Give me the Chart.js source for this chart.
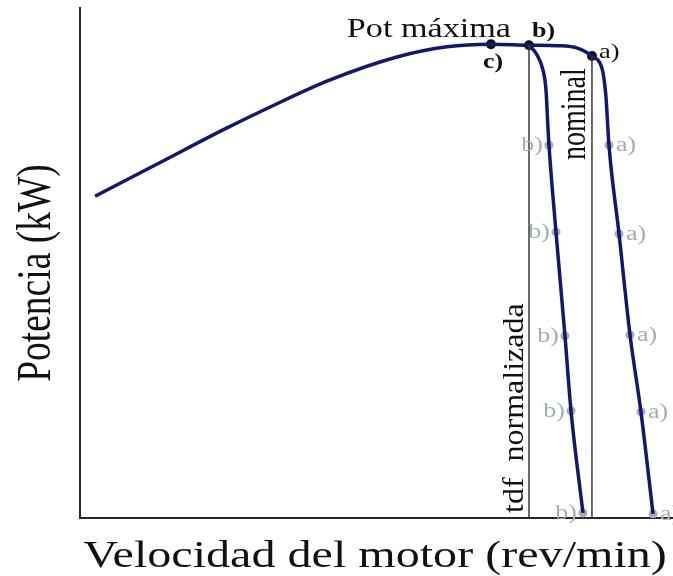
<!DOCTYPE html>
<html>
<head>
<meta charset="utf-8">
<script src="https://cdn.jsdelivr.net/npm/chart.js@4.4.0/dist/chart.umd.min.js"></script>
<style>
html, body { margin: 0; padding: 0; background: #fff; }
#wrap { width: 673px; height: 576px; }
</style>
</head>
<body>
<div id="wrap"><canvas id="powerChart"></canvas></div>
<script>
// curva principal: sube hasta la potencia máxima y cae por la rama a)
const speedMain = [152, 840, 1447, 1892, 2530, 3207, 3713, 4158, 4543, 4836, 5039, 5180, 5261, 5292, 5322, 5342, 5352, 5454, 5565, 5676, 5798];
const powerMain = [63.1, 70.0, 76.1, 80.3, 85.9, 90.4, 92.4, 92.9, 92.7, 92.6, 92.1, 90.6, 89.2, 87.3, 82.5, 76.1, 73.1, 55.7, 35.9, 20.8, 0.8];

// rama b) (tdf normalizada)
const speedB = [4543, 4624, 4685, 4715, 4736, 4745, 4816, 4907, 4968, 5089];
const powerB = [92.7, 90.8, 87.8, 83.9, 76.1, 73.1, 56.1, 35.7, 21.0, 1.0];

// puntos grises sobre cada rama
const graySpeedA = [5352, 5454, 5565, 5676, 5798];
const grayPowerA = [73.1, 55.7, 35.9, 20.8, 0.8];
const graySpeedB = [4745, 4816, 4907, 4968, 5089];
const grayPowerB = [73.1, 56.1, 35.7, 21.0, 1.0];

// puntos negros: c) potencia máxima, b) tdf normalizada, a) nominal
const keyLabels = ['c)', 'b)', 'a)'];
const keySpeed = [4158, 4543, 5180];
const keyPower = [92.9, 92.7, 90.6];

const xTitle = 'Velocidad del motor (rev/min)';
const yTitle = 'Potencia (kW)';

const NAVY = '#15166e';
const GRAY = '#a2afb7';
const SERIF = '"Liberation Serif", "Times New Roman", serif';

function toPoints(xs, ys) {
    return xs.map((v, i) => ({ x: v, y: ys[i] }));
}

function drawText(ctx, text, px, py, o) {
    ctx.save();
    ctx.translate(px, py);
    ctx.scale(o.stretch || 1, 1);
    if (o.rotate) ctx.rotate(-Math.PI / 2);
    ctx.font = (o.weight || 'normal') + ' ' + o.size + 'px ' + SERIF;
    ctx.fillStyle = o.color || '#111';
    ctx.textAlign = o.align || 'left';
    ctx.textBaseline = 'alphabetic';
    ctx.fillText(text, 0, 0);
    ctx.restore();
}

const labelsPlugin = {
    id: 'labels',
    afterDatasetsDraw(chart) {
        const { ctx, chartArea, scales: { x, y } } = chart;

        // etiquetas de los puntos grises
        graySpeedB.forEach((s, i) => {
            drawText(ctx, 'b)', x.getPixelForValue(s) - 6, y.getPixelForValue(grayPowerB[i]) + 6,
                { size: 20, stretch: 1.3, color: GRAY, align: 'right' });
        });
        graySpeedA.forEach((s, i) => {
            drawText(ctx, 'a)', x.getPixelForValue(s) + 7, y.getPixelForValue(grayPowerA[i]) + 6,
                { size: 20, stretch: 1.3, color: GRAY });
        });

        const cx = x.getPixelForValue(keySpeed[0]), cy = y.getPixelForValue(keyPower[0]);
        const bx = x.getPixelForValue(keySpeed[1]), by = y.getPixelForValue(keyPower[1]);
        const ax = x.getPixelForValue(keySpeed[2]), ay = y.getPixelForValue(keyPower[2]);

        drawText(ctx, 'Pot máxima', cx + 20, cy - 7, { size: 28, stretch: 1.22, align: 'right' });
        drawText(ctx, keyLabels[0], cx - 8, cy + 24, { size: 22, stretch: 1.18, weight: 'bold' });
        drawText(ctx, keyLabels[1], bx + 3, by - 8, { size: 22, stretch: 1.18, weight: 'bold' });
        drawText(ctx, keyLabels[2], ax + 7, ay + 2, { size: 22, stretch: 1.2 });

        drawText(ctx, 'nominal', ax - 7, chartArea.top + 152, { size: 28, stretch: 1.29, rotate: true });
        drawText(ctx, 'tdf  normalizada', bx - 6, chartArea.bottom - 5, { size: 32, stretch: 0.92, rotate: true });

        // títulos de los ejes
        drawText(ctx, yTitle, 50, 273, { size: 37.5, stretch: 1.3, rotate: true, align: 'center' });
        drawText(ctx, xTitle, 375, 567, { size: 37, stretch: 1.3, align: 'center' });
    }
};

const hiddenAxis = (max) => ({
    type: 'linear',
    min: 0,
    max: max,
    ticks: { display: false },
    grid: { display: false, drawTicks: false },
    border: { display: true, color: '#262626', width: 2 }
});

new Chart(document.getElementById('powerChart'), {
    type: 'scatter',
    data: {
        datasets: [
            {
                label: 'tdf normalizada',
                data: [{ x: keySpeed[1], y: keyPower[1] }, { x: keySpeed[1], y: 0 }],
                showLine: true,
                borderColor: '#3a3a3a',
                borderWidth: 1.5,
                pointRadius: 0
            },
            {
                label: 'nominal',
                data: [{ x: keySpeed[2], y: keyPower[2] }, { x: keySpeed[2], y: 0 }],
                showLine: true,
                borderColor: '#3a3a3a',
                borderWidth: 1.5,
                pointRadius: 0
            },
            {
                label: 'curva',
                data: toPoints(speedMain, powerMain),
                showLine: true,
                borderColor: NAVY,
                borderWidth: 3.5,
                cubicInterpolationMode: 'monotone',
                pointRadius: 0
            },
            {
                label: 'rama b',
                data: toPoints(speedB, powerB),
                showLine: true,
                borderColor: NAVY,
                borderWidth: 3.5,
                cubicInterpolationMode: 'monotone',
                pointRadius: 0
            },
            {
                label: 'puntos a',
                data: toPoints(graySpeedA, grayPowerA),
                pointRadius: 4.5,
                pointBackgroundColor: GRAY,
                pointBorderWidth: 0
            },
            {
                label: 'puntos b',
                data: toPoints(graySpeedB, grayPowerB),
                pointRadius: 4.5,
                pointBackgroundColor: GRAY,
                pointBorderWidth: 0
            },
            {
                label: 'clave',
                data: toPoints(keySpeed, keyPower),
                pointRadius: 5,
                pointBackgroundColor: '#111',
                pointBorderWidth: 0
            }
        ]
    },
    options: {
        responsive: true,
        maintainAspectRatio: false,
        animation: false,
        layout: { autoPadding: false, padding: { left: 80, top: 8, right: 0, bottom: 58 } },
        plugins: {
            legend: { display: false },
            tooltip: { enabled: false }
        },
        scales: {
            x: hiddenAxis(6000),
            y: hiddenAxis(100)
        }
    },
    plugins: [labelsPlugin]
});
</script>
</body>
</html>
